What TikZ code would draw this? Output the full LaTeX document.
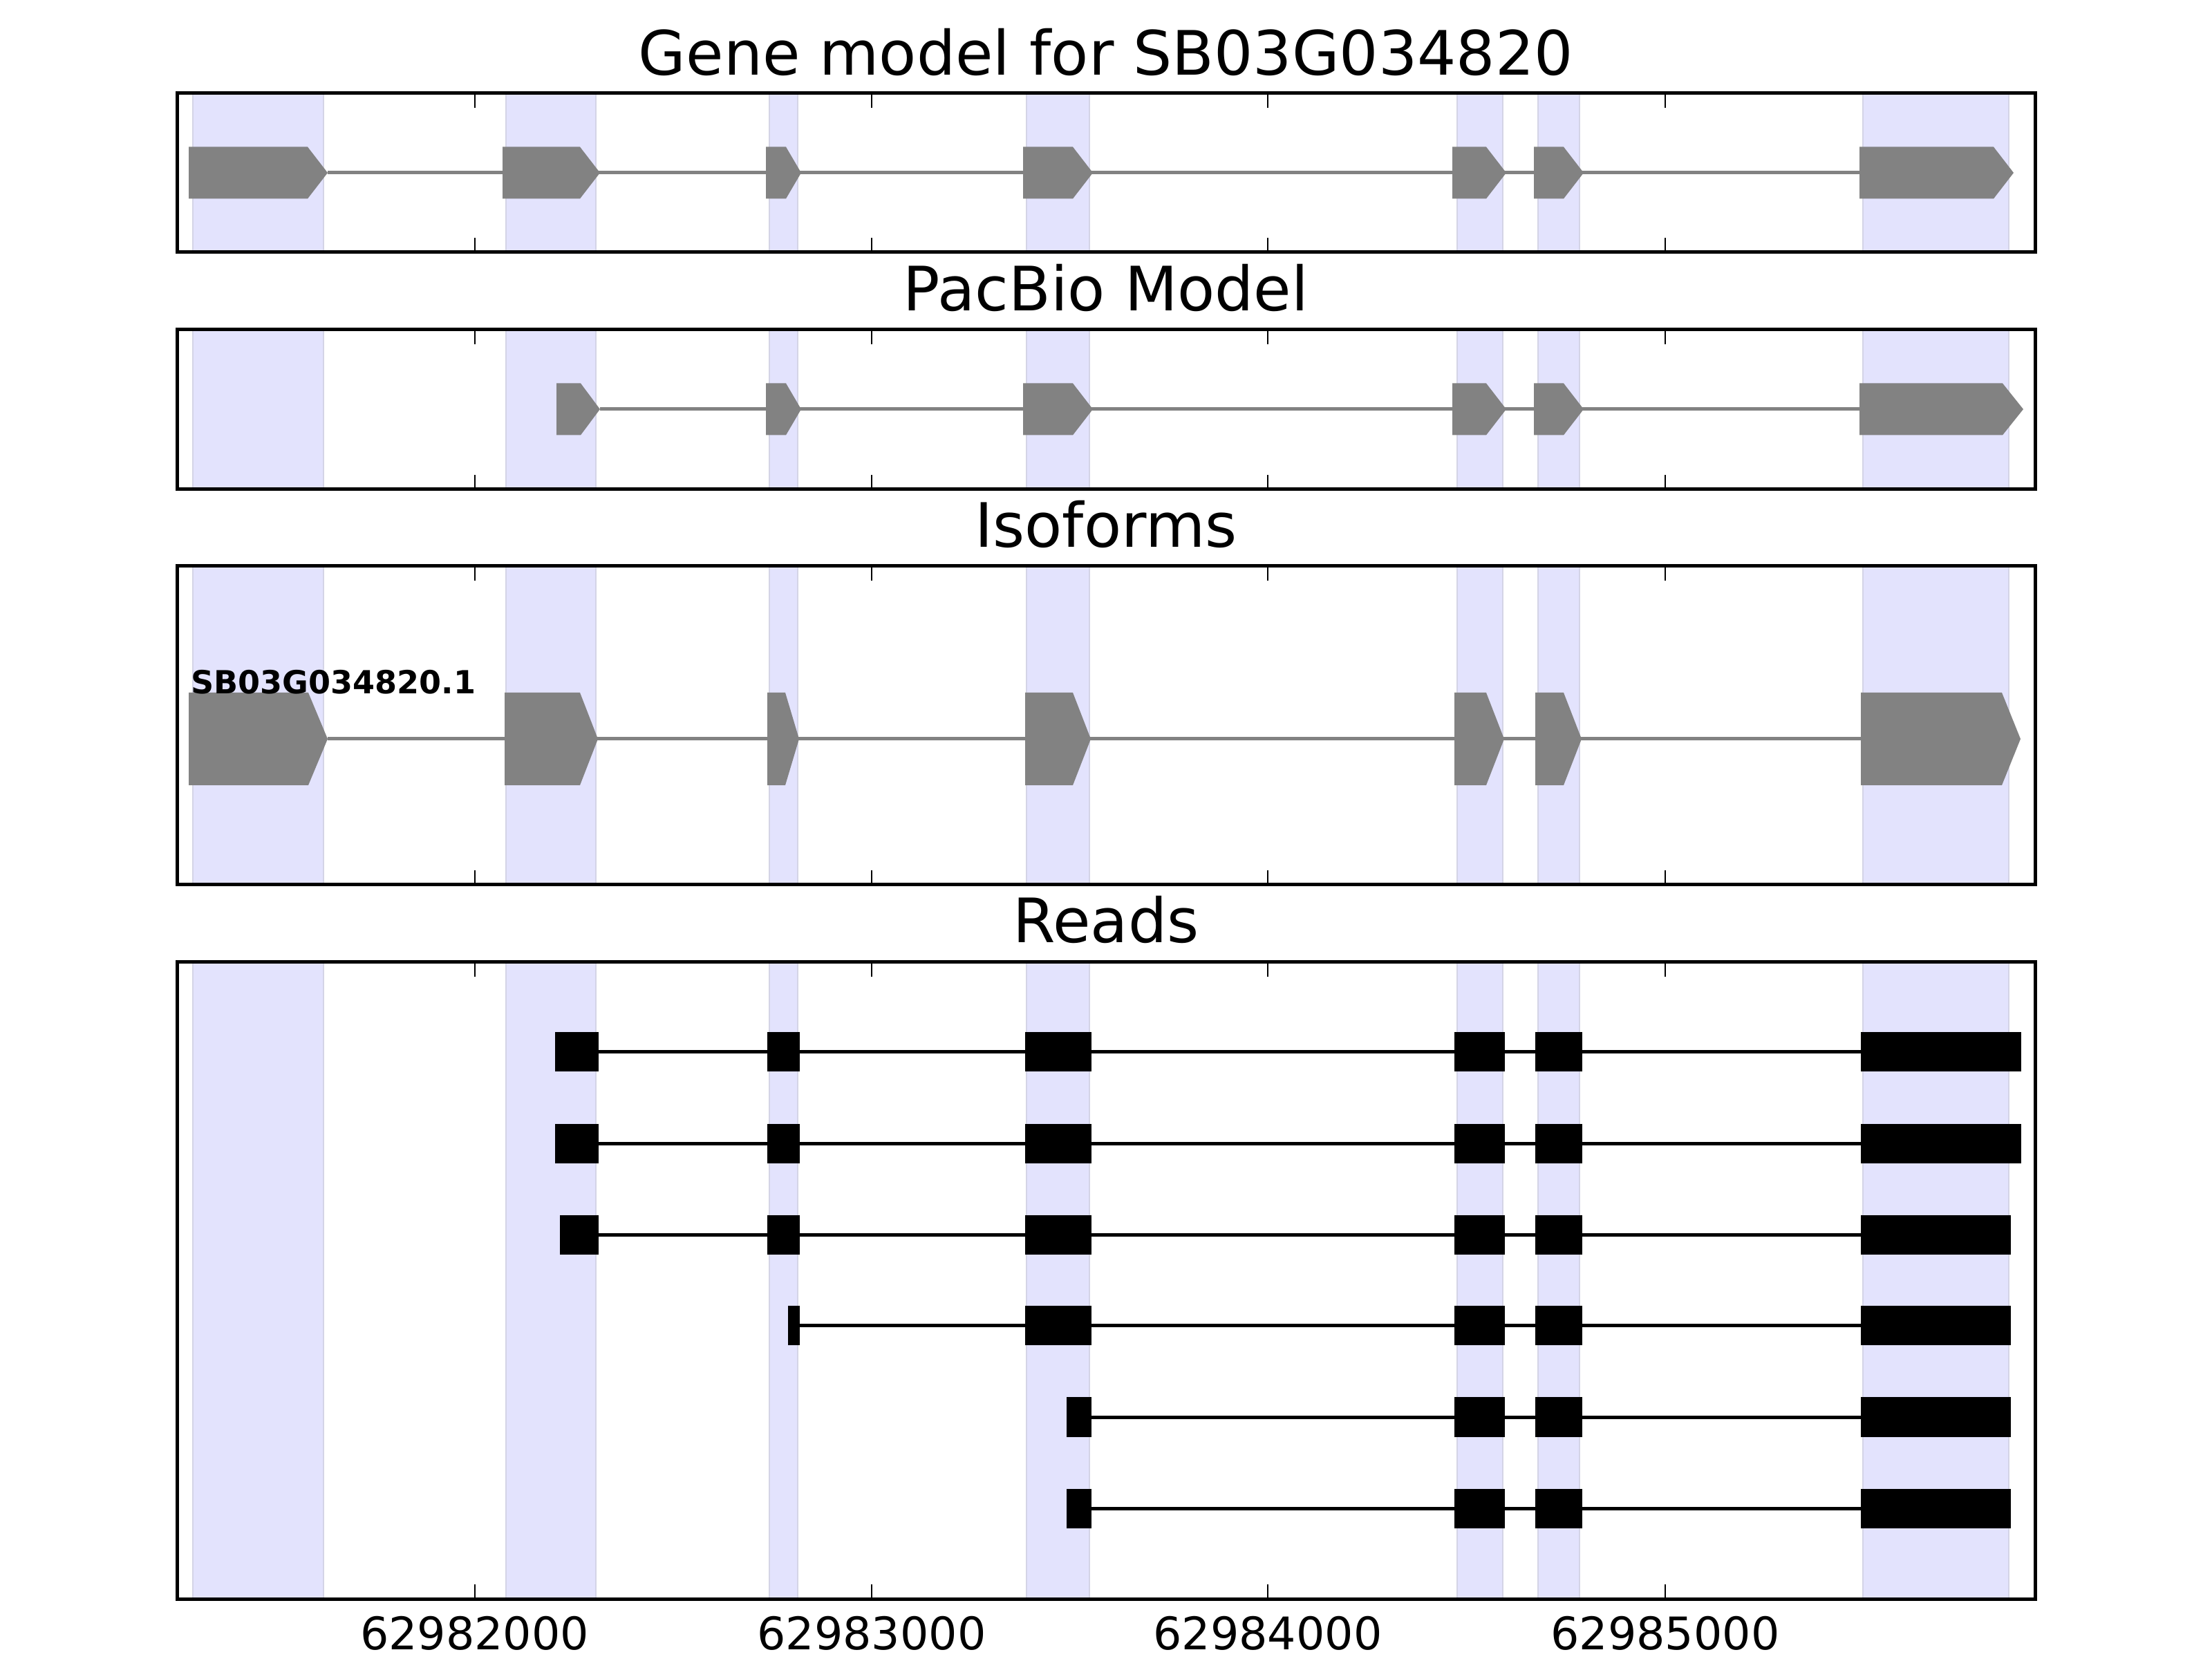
\documentclass[tikz,border=0pt]{standalone}
\usepackage{fontspec}
\setmainfont{DejaVu Sans}
\usepackage{tikz}
\tikzset{>=latex}
\definecolor{bandblue}{RGB}{227,227,253}
\definecolor{bandedge}{RGB}{212,212,230}
\definecolor{exongray}{RGB}{130,130,130}

% one row of gene-model exons drawn as arrows: centre y, half height, list start/tip/head
\newcommand{\exonrow}[3]{%
  \foreach \s/\e/\a in {#3}
    \fill[exongray] (\s,#1-#2) -- (\e-\a,#1-#2) -- (\e,#1) -- (\e-\a,#1+#2) -- (\s,#1+#2) -- cycle;
}

\begin{document}
\begin{tikzpicture}[
  panel/.style={draw=black, line width=0.05cm},
  shade/.style={fill=bandblue, draw=bandedge, line width=0.018cm},
  intron/.style={exongray, line width=0.05cm},
  readline/.style={black, line width=0.05cm},
  ttl/.style={anchor=base, font=\fontsize{25.2}{30}\selectfont},
  ticklab/.style={anchor=base, font=\fontsize{18.5}{22}\selectfont},
]
  \useasboundingbox (0,0) rectangle (32,-24);

  % Shaded exon bands
  \foreach \t/\b in {1.35/3.65, 4.77/7.08, 8.19/12.80, 13.92/23.13} {
    \foreach \s/\e in {2.79/4.68, 7.32/8.62, 11.13/11.54, 14.85/15.76, 21.08/21.74, 22.25/22.85, 26.95/29.06}
      \path[shade] (\s,-\t) rectangle (\e,-\b);
  }

  % Panels and ticks
  \foreach \t/\b in {1.35/3.65, 4.77/7.08, 8.19/12.80, 13.92/23.13} {
    \draw[panel] (2.56,-\t) rectangle (29.44,-\b);
    \foreach \x in {6.865, 12.61, 18.34, 24.09} {
      \draw[line width=0.02cm] (\x,-\t) -- ++(0,-0.21);
      \draw[line width=0.02cm] (\x,-\b) -- ++(0,0.21);
    }
  }

  % Titles
  \node[ttl] (tgene) at (16,-1.09) {Gene model for SB03G034820};
  \node[ttl] (tpac) at (16,-4.50) {PacBio Model};
  \node[ttl] (tiso) at (16,-7.92) {Isoforms};
  \node[ttl] (treads) at (16,-13.64) {Reads};

  % Gene model
  \draw[intron] (4.74,-2.50) -- (26.90,-2.50);
  \exonrow{-2.50}{0.375}{2.73/4.74/0.29, 7.27/8.68/0.29, 11.08/11.59/0.22, 14.80/15.81/0.29, 21.01/21.79/0.29, 22.19/22.91/0.29, 26.90/29.13/0.29}

  % PacBio model
  \draw[intron] (8.68,-5.92) -- (26.90,-5.92);
  \exonrow{-5.92}{0.375}{8.05/8.68/0.28, 11.08/11.59/0.22, 14.80/15.81/0.29, 21.01/21.79/0.29, 22.19/22.91/0.29, 26.90/29.27/0.30}

  % Isoforms
  \draw[intron] (4.74,-10.69) -- (26.92,-10.69);
  \exonrow{-10.69}{0.67}{2.73/4.74/0.28, 7.30/8.65/0.26, 11.10/11.56/0.20, 14.83/15.78/0.26, 21.04/21.76/0.26, 22.21/22.88/0.26, 26.92/29.23/0.27}
  \node[anchor=base west, font=\bfseries\fontsize{13.1}{15}\selectfont] (isolab) at (2.64,-10.04) {SB03G034820.1};

  % Reads
  \foreach \y/\first/\last/\blocks in {
      15.22/8.03/29.24/{8.03/8.66, 11.10/11.57, 14.83/15.79, 21.04/21.77, 22.21/22.89, 26.92/29.24},
      16.55/8.03/29.24/{8.03/8.66, 11.10/11.57, 14.83/15.79, 21.04/21.77, 22.21/22.89, 26.92/29.24},
      17.87/8.10/29.09/{8.10/8.66, 11.10/11.57, 14.83/15.79, 21.04/21.77, 22.21/22.89, 26.92/29.09},
      19.18/11.40/29.09/{11.40/11.57, 14.83/15.79, 21.04/21.77, 22.21/22.89, 26.92/29.09},
      20.50/15.43/29.09/{15.43/15.79, 21.04/21.77, 22.21/22.89, 26.92/29.09},
      21.82/15.43/29.09/{15.43/15.79, 21.04/21.77, 22.21/22.89, 26.92/29.09}} {
    \draw[readline] (\first,-\y) -- (\last,-\y);
    \foreach \s/\e in \blocks
      \fill[black] (\s,-\y-0.285) rectangle (\e,-\y+0.285);
  }

  % Tick labels
  \node[ticklab] (x1) at (6.865,-23.86) {62982000};
  \node[ticklab] (x2) at (12.61,-23.86) {62983000};
  \node[ticklab] (x3) at (18.34,-23.86) {62984000};
  \node[ticklab] (x4) at (24.09,-23.86) {62985000};
\end{tikzpicture}
\end{document}
